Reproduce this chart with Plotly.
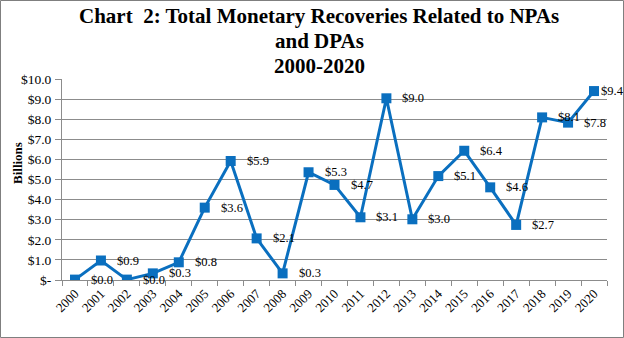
import plotly.graph_objects as go

years = [str(y) for y in range(2000, 2021)]
values = [0.02, 0.97, 0.02, 0.33, 0.88, 3.6, 5.92, 2.07, 0.33, 5.36, 4.73,
          3.12, 9.04, 3.02, 5.17, 6.43, 4.61, 2.74, 8.09, 7.83, 9.40]
labels = ["$0.0", "$0.9", "$0.0", "$0.3", "$0.8", "$3.6", "$5.9", "$2.1", "$0.3", "$5.3", "$4.7",
          "$3.1", "$9.0", "$3.0", "$5.1", "$6.4", "$4.6", "$2.7", "$8.1", "$7.8", "$9.4"]
title_lines = ["Chart  2: Total Monetary Recoveries Related to NPAs", "and DPAs", "2000-2020"]
ytick_vals = list(range(0, 11))
ytick_text = ["$-"] + ["${:.1f}".format(v) for v in range(1, 11)]

FONT = "Liberation Serif"
BLUE = "#0A6FBF"
GRID = "#8C8C8C"

W, H = 624, 338
L, R, T, B = 62, 17, 79, 58
pw, ph = W - L - R, H - T - B

def px_x(px):
    return (px - L) / pw

def px_y(py):
    return 1 - (py - T) / ph

fig = go.Figure()
fig.add_trace(go.Scatter(
    x=years, y=values, mode="lines+markers",
    line=dict(color=BLUE, width=3),
    marker=dict(symbol="square", size=10, color=BLUE),
    hoverinfo="skip", showlegend=False,
))

annotations = []
n = len(values)
for i, (y, t) in enumerate(zip(values, labels)):
    annotations.append(dict(x=i, y=y, xref="x", yref="y", text=t, showarrow=False,
                            xanchor="left", yanchor="middle", xshift=14 if i < n - 1 else 5,
                            font=dict(family=FONT, size=12.5, color="black")))
annotations.append(dict(x=px_x(17), y=px_y(163), xref="paper", yref="paper",
                        text="<b>Billions</b>", textangle=-90, showarrow=False,
                        xanchor="center", yanchor="middle",
                        font=dict(family=FONT, size=13, color="black")))
for k, line in enumerate(title_lines):
    annotations.append(dict(x=px_x(319), y=px_y(16 + 25 * k), xref="paper", yref="paper",
                            text="<b>" + line + "</b>", showarrow=False,
                            xanchor="center", yanchor="middle",
                            font=dict(family=FONT, size=21, color="black")))

fig.update_layout(
    width=W, height=H,
    margin=dict(l=L, r=R, t=T, b=B),
    paper_bgcolor="white", plot_bgcolor="white",
    annotations=annotations,
    shapes=[dict(type="rect", xref="paper", yref="paper",
                 x0=px_x(0.5), x1=px_x(W - 0.5),
                 y0=px_y(H - 0.5), y1=px_y(0.5),
                 line=dict(color="#7F7F7F", width=1), fillcolor="rgba(0,0,0,0)", layer="below")],
)
fig.update_xaxes(type="category", range=[-0.5, 20.5], showgrid=False,
                 showline=True, linecolor=GRID, linewidth=1,
                 ticks="outside", tickson="boundaries", ticklen=5, tickcolor=GRID,
                 tickangle=-45, tickfont=dict(family=FONT, size=13, color="black"))
fig.update_yaxes(range=[0, 10], tickvals=ytick_vals, ticktext=ytick_text,
                 showgrid=True, gridcolor=GRID, gridwidth=1, zeroline=False,
                 showline=True, linecolor=GRID, linewidth=1,
                 ticks="outside", ticklen=6, tickcolor=GRID, ticklabelstandoff=1,
                 tickfont=dict(family=FONT, size=13.5, color="black"))

fig.write_html("out.html")
